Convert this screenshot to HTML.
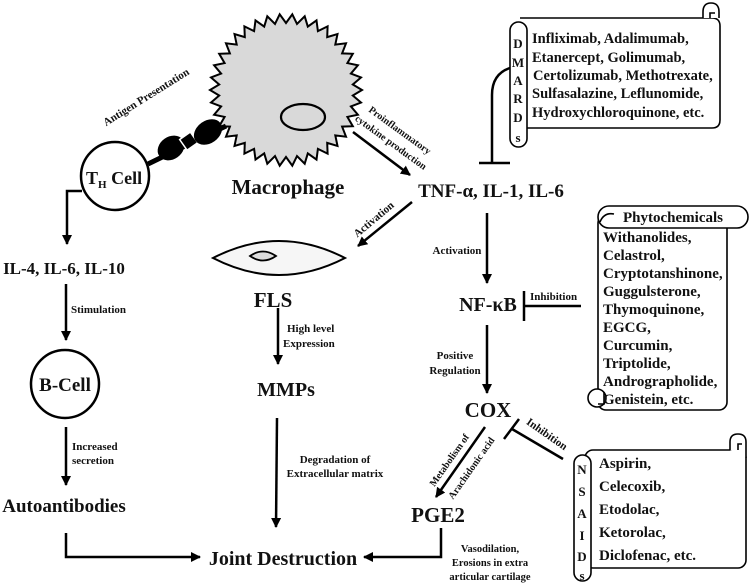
<!DOCTYPE html>
<html><head><meta charset="utf-8"><style>
html,body{margin:0;padding:0;background:#fff;}
svg{display:block;}
text{font-family:"Liberation Serif",serif;font-weight:bold;fill:#111;}
</style></head><body>
<svg id="s" width="750" height="583" viewBox="0 0 750 583" xmlns="http://www.w3.org/2000/svg">
<defs>
<marker id="a" viewBox="0 0 10 10" refX="9" refY="5" markerWidth="4" markerHeight="4" orient="auto"><path d="M0,0 L10,5 L0,10 z" fill="#000"/></marker>
</defs>
<g stroke="#000" stroke-width="2.5" fill="none">
<polygon id="mac" fill="#d9d9d9" stroke="#000" stroke-width="2" points=""/>
<ellipse cx="303" cy="117" rx="22" ry="13" stroke-width="2.2"/>
<circle cx="115" cy="176" r="34"/>
<line x1="148" y1="164" x2="226" y2="126" stroke-width="5"/>
<ellipse cx="171" cy="148" rx="13" ry="10" fill="#000" transform="rotate(-35 171 148)"/>
<rect x="182" y="135" width="13" height="13" fill="#000" stroke="#fff" stroke-width="1.5" transform="rotate(-35 188 141)"/>
<ellipse cx="208" cy="132" rx="14" ry="10" fill="#000" transform="rotate(-35 208 132)"/>
<line x1="353" y1="132" x2="410" y2="175" marker-end="url(#a)"/>
<line x1="412" y1="202" x2="358" y2="246" marker-end="url(#a)"/>
<line x1="278" y1="308" x2="278" y2="364" marker-end="url(#a)"/>
<line x1="277" y1="418" x2="276" y2="527" marker-end="url(#a)"/>
<polyline points="82,191 67,191 67,244" marker-end="url(#a)"/>
<line x1="66" y1="284" x2="66" y2="340" marker-end="url(#a)"/>
<line x1="66" y1="427" x2="66" y2="485" marker-end="url(#a)"/>
<polyline points="66,533 66,557 200,557" marker-end="url(#a)"/>
<polyline points="441,528 441,557 364,557" marker-end="url(#a)"/>
<line x1="487" y1="213" x2="487" y2="283" marker-end="url(#a)"/>
<line x1="487" y1="325" x2="487" y2="393" marker-end="url(#a)"/>
<line x1="485" y1="427" x2="436" y2="497" marker-end="url(#a)"/>
<path d="M510,68 Q492,74 492,95 L492,163"/>
<line x1="479" y1="163" x2="510" y2="163"/>
<line x1="524" y1="291" x2="524" y2="321"/>
<line x1="524" y1="306" x2="581" y2="306"/>
<line x1="504" y1="439" x2="519" y2="419"/>
<line x1="512" y1="429" x2="563" y2="459"/>
<path d="M213,258 Q279,224 345,258 Q279,292 213,258 z" fill="#f6f6f6" stroke-width="2"/>
<path d="M250,256 Q263,247 276,256 Q263,265 250,256 z" fill="#ddd" stroke-width="1.8"/>
<circle cx="65" cy="384" r="34"/>
</g>
<g stroke="#000" stroke-width="1.6" fill="#fff">
<path d="M520,18 L712,18 Q720,18 720,26 L720,120 Q720,128 712,128 L527,128"/>
<path d="M703,18 L703,12 Q703,3 711,3 Q719,3 719,12 L719,18" />
<path d="M710,18 L710,13 L715,13" fill="none"/>
<rect x="510" y="22" width="17" height="125" rx="8.5"/>
<rect x="598" y="215" width="129" height="195" rx="8"/>
<rect x="598" y="206" width="150" height="22" rx="11"/>
<path d="M600,222 Q604,212 614,214" fill="none"/>
<circle cx="597" cy="398" r="9"/>
<path d="M604,392 L604,404 L598,404" fill="none"/>
<rect x="585" y="450" width="161" height="118" rx="8"/>
<path d="M730,450 L730,442 Q730,434 738,434 Q746,434 746,442 L746,458" />
<path d="M738,450 L738,444 L742,444" fill="none"/>
<rect x="574" y="455" width="17" height="126" rx="8.5"/>
</g>
<text x="148" y="100" font-size="11" transform="rotate(-32 148 100)" text-anchor="middle">Antigen Presentation</text>
<text x="86" y="184" font-size="18">T<tspan font-size="11" dy="4">H</tspan><tspan dy="-4"> Cell</tspan></text>
<text x="288" y="194" font-size="21" text-anchor="middle">Macrophage</text>
<text x="398" y="133" font-size="10" transform="rotate(36 398 133)" text-anchor="middle">Proinflammatory</text>
<text x="389" y="145" font-size="10" transform="rotate(36 389 145)" text-anchor="middle">cytokine production</text>
<text x="491" y="197" font-size="19" text-anchor="middle">TNF-α, IL-1, IL-6</text>
<text x="376" y="222" font-size="11" transform="rotate(-40 376 222)" text-anchor="middle">Activation</text>
<text x="273" y="307" font-size="21" text-anchor="middle">FLS</text>
<text x="287" y="332" font-size="11">High level</text>
<text x="283" y="347" font-size="11">Expression</text>
<text x="286" y="396" font-size="20" text-anchor="middle">MMPs</text>
<text x="335" y="463" font-size="11" text-anchor="middle">Degradation of</text>
<text x="335" y="477" font-size="11" text-anchor="middle">Extracellular matrix</text>
<text x="283" y="565" font-size="20" text-anchor="middle">Joint Destruction</text>
<text x="64" y="274" font-size="17" text-anchor="middle">IL-4, IL-6, IL-10</text>
<text x="71" y="313" font-size="11">Stimulation</text>
<text x="65" y="391" font-size="19" text-anchor="middle">B-Cell</text>
<text x="72" y="450" font-size="11">Increased</text>
<text x="72" y="464" font-size="11">secretion</text>
<text x="64" y="512" font-size="19" text-anchor="middle">Autoantibodies</text>
<text x="457" y="254" font-size="11" text-anchor="middle">Activation</text>
<text x="488" y="311" font-size="20" text-anchor="middle">NF-κB</text>
<text x="530" y="300" font-size="11">Inhibition</text>
<text x="455" y="359" font-size="11" text-anchor="middle">Positive</text>
<text x="455" y="374" font-size="11" text-anchor="middle">Regulation</text>
<text x="488" y="417" font-size="21" text-anchor="middle">COX</text>
<text x="452" y="462" font-size="10" transform="rotate(-55 452 462)" text-anchor="middle">Metabolism of</text>
<text x="474" y="470" font-size="10" transform="rotate(-55 474 470)" text-anchor="middle">Arachidonic acid</text>
<text x="545" y="437" font-size="11" transform="rotate(35 545 437)" text-anchor="middle">Inhibition</text>
<text x="438" y="522" font-size="21" text-anchor="middle">PGE2</text>
<text x="490" y="552" font-size="10.5" text-anchor="middle">Vasodilation,</text>
<text x="490" y="566" font-size="10.5" text-anchor="middle">Erosions in extra</text>
<text x="490" y="580" font-size="10.5" text-anchor="middle">articular cartilage</text>
<g font-size="14.5">
<text x="532" y="43">Infliximab, Adalimumab,</text>
<text x="532" y="62">Etanercept, Golimumab,</text>
<text x="533" y="80">Certolizumab, Methotrexate,</text>
<text x="532" y="98">Sulfasalazine, Leflunomide,</text>
<text x="532" y="117">Hydroxychloroquinone, etc.</text>
</g>
<g font-size="13" text-anchor="middle">
<text x="518" y="48">D</text><text x="518" y="67">M</text><text x="518" y="85">A</text><text x="518" y="103">R</text><text x="518" y="122">D</text><text x="518" y="142">s</text>
<text x="582" y="474">N</text><text x="582" y="496">S</text><text x="582" y="518">A</text><text x="582" y="540">I</text><text x="582" y="561">D</text><text x="582" y="580">s</text>
</g>
<g font-size="15">
<text x="623" y="222">Phytochemicals</text>
<text x="603" y="242">Withanolides,</text>
<text x="603" y="260">Celastrol,</text>
<text x="603" y="278">Cryptotanshinone,</text>
<text x="603" y="296">Guggulsterone,</text>
<text x="603" y="314">Thymoquinone,</text>
<text x="603" y="332">EGCG,</text>
<text x="603" y="350">Curcumin,</text>
<text x="603" y="368">Triptolide,</text>
<text x="603" y="386">Andrographolide,</text>
<text x="603" y="404">Genistein, etc.</text>
</g>
<g font-size="15">
<text x="599" y="468">Aspirin,</text>
<text x="599" y="491">Celecoxib,</text>
<text x="599" y="514">Etodolac,</text>
<text x="599" y="537">Ketorolac,</text>
<text x="599" y="560">Diclofenac, etc.</text>
</g>
</svg>
<script>
var p=[],cx=286,cy=90,n=38;
for(var i=0;i<n*2;i++){var r=i%2?67:76,t=i*Math.PI/n;p.push((cx+r*Math.cos(t)).toFixed(1)+','+(cy+r*Math.sin(t)).toFixed(1));}
document.getElementById('mac').setAttribute('points',p.join(' '));
</script>
</body></html>
